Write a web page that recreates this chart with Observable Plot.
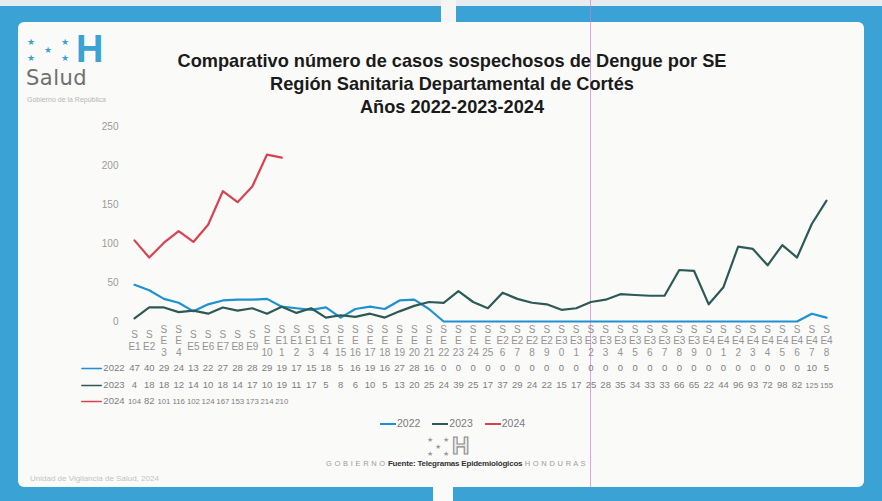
<!DOCTYPE html>
<html>
<head>
<meta charset="utf-8">
<script src="https://cdn.jsdelivr.net/npm/d3@7"></script>
<script src="https://cdn.jsdelivr.net/npm/@observablehq/plot@0.6"></script>
<style>
  html, body { margin: 0; padding: 0; background: #e9eef0; }
  #wrap { position: relative; width: 882px; height: 501px; overflow: hidden; background: #3aa2d4; font-family: "Liberation Sans", Arial, sans-serif; }
  .topstrip { position: absolute; left: 0; top: 0; width: 882px; height: 6px; background: #e6ecef; }
  .notch { position: absolute; background: #f4f5f4; }
  #panel { position: absolute; left: 18px; top: 22px; width: 846px; height: 465px; background: #fafaf9; border-radius: 6px; }
  #title { position: absolute; left: 100px; width: 704px; top: 50px; text-align: center; font-weight: bold; font-size: 18.2px; line-height: 23px; color: #1b1b1b; }
  #chart { position: absolute; left: 0; top: 110px; }
  #pink { position: absolute; left: 590px; top: 0; width: 1px; height: 487px; background: rgba(214, 120, 206, 0.65); }
  .logo-star { position: absolute; color: #3aa2d4; font-size: 9px; line-height: 9px; }
  #logoH { position: absolute; left: 76px; top: 30px; font-size: 38px; font-weight: bold; color: #3aa2d4; line-height: 38px; }
  #salud { position: absolute; left: 26px; top: 66px; font-size: 21px; color: #6f6f6f; font-family: "DejaVu Sans", sans-serif; letter-spacing: 0.5px; }
  #gob { position: absolute; left: 27px; top: 96px; font-size: 7px; color: #b7b7b7; }
  #legend { position: absolute; left: 380px; top: 417px; font-size: 10.5px; color: #7a7a7a; white-space: nowrap; }
  #legend span.k { display: inline-block; width: 16px; height: 2px; vertical-align: middle; margin-right: 1px; }
  #legend span.item { margin-right: 12px; }
  .bstar { position: absolute; color: #9a9a9a; font-size: 7px; line-height: 7px; }
  #bH { position: absolute; left: 452px; top: 434px; font-size: 24px; font-weight: bold; color: #ececec; -webkit-text-stroke: 1.1px #8c8c8c; line-height: 24px; }
  #source { position: absolute; left: 326px; top: 459px; font-size: 7.5px; color: #9c9c9c; white-space: nowrap; letter-spacing: 0.3px; }
  #source b { color: #333; font-weight: bold; letter-spacing: -0.2px; font-size: 8px; }
  #unit { position: absolute; left: 30px; top: 474px; font-size: 8px; color: #c4c4c4; }
</style>
</head>
<body>
<div id="wrap">
  <div class="topstrip"></div>
  <div class="notch" style="left:441px;top:0;width:15px;height:24px;"></div>
  <div id="panel"></div>
  <div class="notch" style="left:433px;top:486px;width:20px;height:15px;background:#fafaf9;"></div>
  <div id="pink"></div>

  <div class="logo-star" style="left:27px;top:38px;">★</div>
  <div class="logo-star" style="left:61px;top:38px;">★</div>
  <div class="logo-star" style="left:44px;top:46px;">★</div>
  <div class="logo-star" style="left:27px;top:54px;">★</div>
  <div class="logo-star" style="left:61px;top:54px;">★</div>
  <div id="logoH">H</div>
  <div id="salud">Salud</div>
  <div id="gob">Gobierno de la República</div>

  <div id="title">Comparativo número de casos sospechosos de Dengue por SE<br>Región Sanitaria Departamental de Cortés<br>Años 2022-2023-2024</div>

  <div id="chart"></div>

  <div id="legend"></div>

  <div class="bstar" style="left:427px;top:436px;">★</div>
  <div class="bstar" style="left:443px;top:436px;">★</div>
  <div class="bstar" style="left:435px;top:443px;">★</div>
  <div class="bstar" style="left:427px;top:450px;">★</div>
  <div class="bstar" style="left:443px;top:450px;">★</div>
  <div id="bH">H</div>
  <div id="source">G O B I E R N O <b>Fuente: Telegramas Epidemiológicos</b> H O N D U R A S</div>
  <div id="unit">Unidad de Vigilancia de Salud, 2024</div>
</div>

<script>
// ---------- data ----------
const years = ["2022", "2023", "2024"];
const colors = ["#1e92d0", "#2e5a56", "#d8434f"];

const weeks = [1, 2, 3, 4, 5, 6, 7, 8, 9, 10, 11, 12, 13, 14, 15, 16, 17, 18, 19, 20, 21, 22, 23, 24,
  25, 26, 27, 28, 29, 30, 31, 32, 33, 34, 35, 36, 37, 38, 39, 40, 41, 42, 43, 44, 45, 46, 47, 48];

const tickLabels = [
  "S\nE1", "S\nE2", "S\nE\n3", "S\nE\n4", "S\nE5", "S\nE6", "S\nE7", "S\nE8", "S\nE9", "S\nE\n10",
  "S\nE1\n1", "S\nE1\n2", "S\nE1\n3", "S\nE1\n4", "S\nE\n15", "S\nE\n16", "S\nE\n17", "S\nE\n18", "S\nE\n19", "S\nE\n20",
  "S\nE\n21", "S\nE\n22", "S\nE\n23", "S\nE\n24", "S\nE\n25", "S\nE2\n6", "S\nE2\n7", "S\nE2\n8", "S\nE2\n9", "S\nE3\n0",
  "S\nE3\n1", "S\nE3\n2", "S\nE3\n3", "S\nE3\n4", "S\nE3\n5", "S\nE3\n6", "S\nE3\n7", "S\nE3\n8", "S\nE3\n9", "S\nE4\n0",
  "S\nE4\n1", "S\nE4\n2", "S\nE4\n3", "S\nE4\n4", "S\nE4\n5", "S\nE4\n6", "S\nE4\n7", "S\nE4\n8"
];

const cases2022 = [47, 40, 29, 24, 13, 22, 27, 28, 28, 29, 19, 17, 15, 18, 5, 16, 19, 16, 27, 28, 16,
  0, 0, 0, 0, 0, 0, 0, 0, 0, 0, 0, 0, 0, 0, 0, 0, 0, 0, 0, 0, 0, 0, 0, 0, 0, 10, 5];
const cases2023 = [4, 18, 18, 12, 14, 10, 18, 14, 17, 10, 19, 11, 17, 5, 8, 6, 10, 5, 13, 20, 25, 24, 39, 25,
  17, 37, 29, 24, 22, 15, 17, 25, 28, 35, 34, 33, 33, 66, 65, 22, 44, 96, 93, 72, 98, 82, 125, 155];
const cases2024 = [104, 82, 101, 116, 102, 124, 167, 153, 173, 214, 210];

const yTicks = [0, 50, 100, 150, 200, 250];

// ---------- build table ----------
const series = [cases2022, cases2023, cases2024];
const rows = [];
years.forEach((yr, s) => {
  series[s].forEach((v, i) => rows.push({ year: yr, row: s, week: weeks[i], value: v }));
});

const font = "Liberation Sans, Arial, sans-serif";
const rowDy = [49, 66, 82];

const chart = Plot.plot({
  width: 882,
  height: 300,
  marginTop: 16,
  marginBottom: 89,
  marginLeft: 134,
  marginRight: 56,
  style: { background: "transparent", fontFamily: font, overflow: "visible" },
  x: { domain: [1, 48], axis: null },
  y: { domain: [0, 250], axis: null },
  color: { domain: years, range: colors },
  marks: [
    Plot.axisY({ ticks: yTicks, tickSize: 0, tickPadding: 16, label: null, fill: "#9a9a9a", fontSize: 10, tickFormat: d => String(d) }),
    Plot.line(rows, { x: "week", y: "value", z: "year", stroke: "year", strokeWidth: 2.2, curve: "linear" }),
    // category labels (wrapped like the original)
    Plot.text(weeks, { x: d => d, text: (d, i) => tickLabels[i], frameAnchor: "bottom", dy: 19, lineAnchor: "middle", lineHeight: 1.15, fill: "#939393", fontSize: 10 }),
    // data table rows
    ...years.map((yr, s) => Plot.text(rows.filter(r => r.row === s), {
      x: "week", text: d => String(d.value), frameAnchor: "bottom", dy: rowDy[s], fill: "#7e7e7e",
      fontSize: d => d.value >= 100 ? 7.8 : 9.5
    })),
    // row labels with keys
    ...years.map((yr, s) => Plot.text([yr], {
      frameAnchor: "bottom-left", dx: -10, dy: rowDy[s], textAnchor: "end", text: d => d, fill: "#7e7e7e", fontSize: 9.5
    })),
    ...years.map((yr, s) => Plot.text([yr], {
      frameAnchor: "bottom-left", dx: -33, dy: rowDy[s], textAnchor: "end", text: () => "——", fill: colors[s], stroke: colors[s], strokeWidth: 0.6, fontSize: 10
    }))
  ]
});
document.getElementById("chart").appendChild(chart);

// legend
const lg = document.getElementById("legend");
years.forEach((yr, i) => {
  const it = document.createElement("span");
  it.className = "item";
  it.innerHTML = `<span class="k" style="background:${colors[i]}"></span>${yr}`;
  lg.appendChild(it);
});
</script>
</body>
</html>
